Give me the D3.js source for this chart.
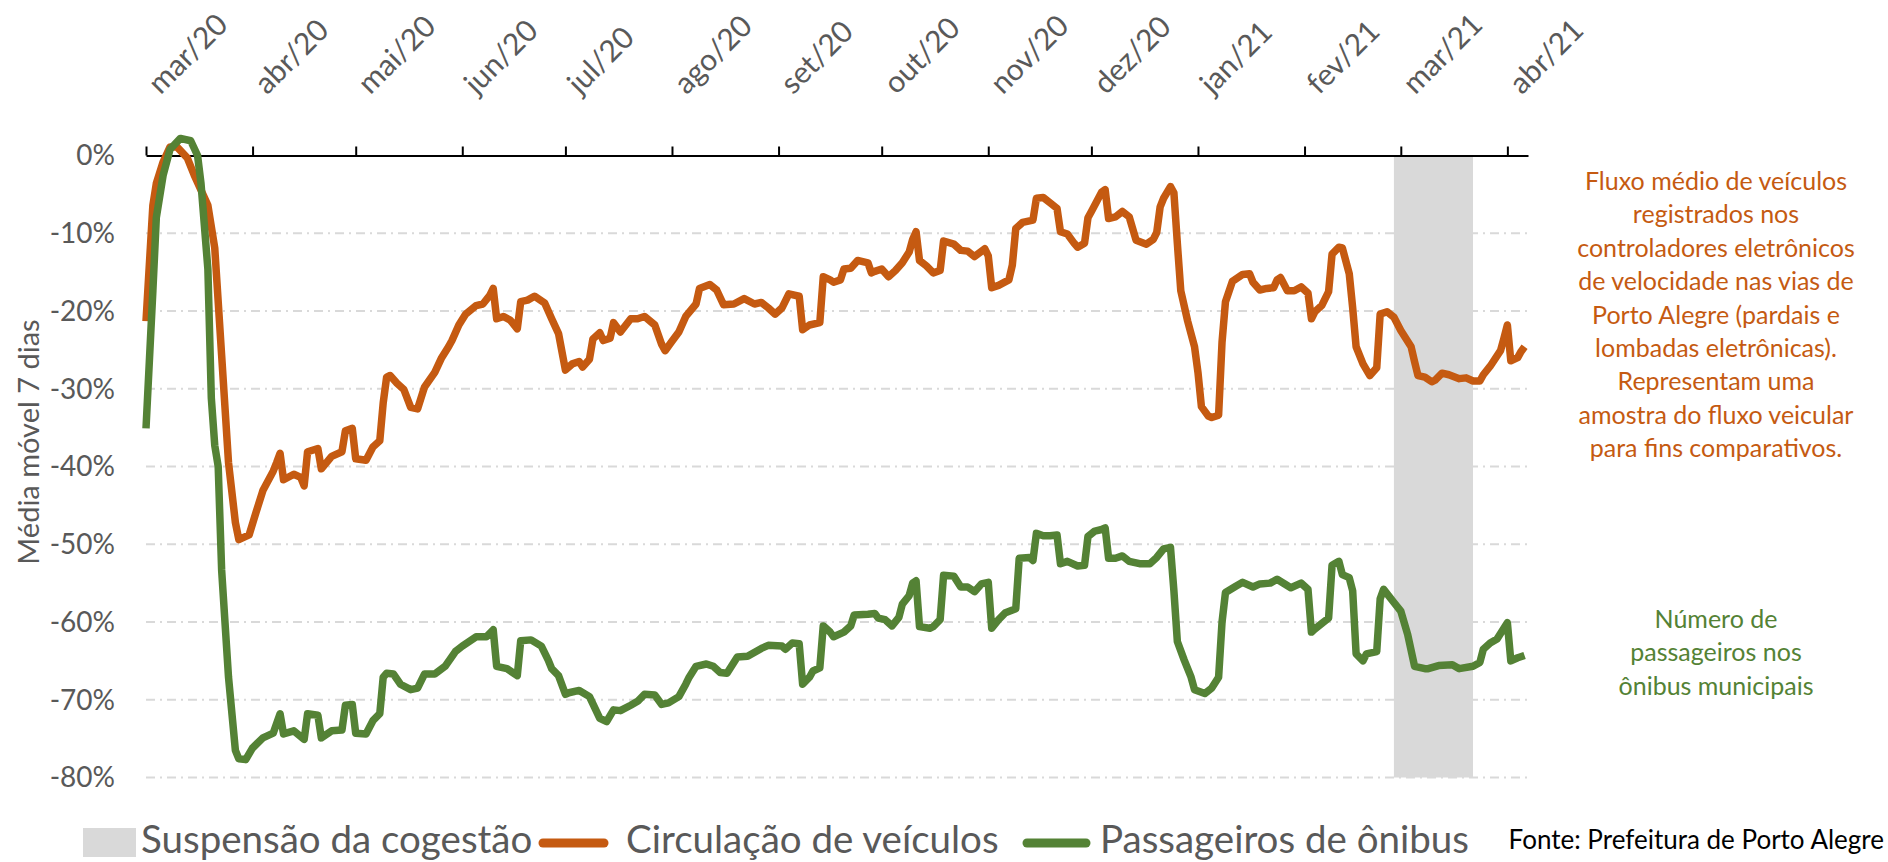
<!DOCTYPE html>
<html>
<head>
<meta charset="utf-8">
<script src="https://cdn.jsdelivr.net/npm/d3@7"></script>
<style>
  body { margin: 0; background: #fff; }
  svg { display: block; font-family: Lato, "Open Sans", sans-serif; }
</style>
</head>
<body>
<div id="chart"></div>
<script>
//////////
// Data //
//////////

// Month ticks on the top axis
const monthStarts = ["2020-03-01", "2020-04-01", "2020-05-01", "2020-06-01", "2020-07-01",
  "2020-08-01", "2020-09-01", "2020-10-01", "2020-11-01", "2020-12-01",
  "2021-01-01", "2021-02-01", "2021-03-01", "2021-04-01"];
const monthLabels = ["mar/20", "abr/20", "mai/20", "jun/20", "jul/20", "ago/20", "set/20",
  "out/20", "nov/20", "dez/20", "jan/21", "fev/21", "mar/21", "abr/21"];

// Y ticks, percent
const yTicks = [0, -10, -20, -30, -40, -50, -60, -70, -80];

// Period with the co-management suspended
const suspensao = ["2021-02-27", "2021-03-22"];

// 7-day moving average, % vs. reference
const veiculos = [
  ["2020-03-01", -21.3], ["2020-03-03", -6.4], ["2020-03-04", -3.6], ["2020-03-06", -0.8],
  ["2020-03-08", 1.1], ["2020-03-10", 1.1], ["2020-03-13", -0.3], ["2020-03-15", -2.5],
  ["2020-03-19", -6.4], ["2020-03-21", -11.9], ["2020-03-23", -25.7], ["2020-03-25", -39.5],
  ["2020-03-27", -47.2], ["2020-03-28", -49.4], ["2020-03-31", -48.8], ["2020-04-02", -45.9],
  ["2020-04-04", -43.1], ["2020-04-07", -40.6], ["2020-04-08", -39.5], ["2020-04-09", -38.3],
  ["2020-04-10", -41.7], ["2020-04-13", -41], ["2020-04-15", -41.4], ["2020-04-16", -42.5],
  ["2020-04-17", -38.1], ["2020-04-20", -37.7], ["2020-04-21", -40.3], ["2020-04-24", -38.7],
  ["2020-04-27", -38.1], ["2020-04-28", -35.4], ["2020-04-30", -35.1], ["2020-05-01", -39],
  ["2020-05-04", -39.2], ["2020-05-06", -37.5], ["2020-05-08", -36.7], ["2020-05-09", -31.8],
  ["2020-05-10", -28.5], ["2020-05-11", -28.3], ["2020-05-13", -29.3], ["2020-05-15", -30.1],
  ["2020-05-17", -32.4], ["2020-05-19", -32.6], ["2020-05-21", -29.8], ["2020-05-24", -27.9],
  ["2020-05-26", -26], ["2020-05-28", -24.6], ["2020-05-29", -23.8], ["2020-05-31", -21.8],
  ["2020-06-02", -20.4], ["2020-06-05", -19.3], ["2020-06-07", -19.1], ["2020-06-09", -18],
  ["2020-06-10", -17.1], ["2020-06-11", -21], ["2020-06-13", -20.7], ["2020-06-15", -21.2],
  ["2020-06-17", -22.3], ["2020-06-18", -18.8], ["2020-06-20", -18.6], ["2020-06-22", -18.1],
  ["2020-06-25", -19], ["2020-06-27", -21], ["2020-06-29", -22.9], ["2020-07-01", -27.6],
  ["2020-07-03", -26.8], ["2020-07-05", -26.5], ["2020-07-06", -27.2], ["2020-07-08", -26.2],
  ["2020-07-09", -23.6], ["2020-07-11", -22.8], ["2020-07-12", -23.8], ["2020-07-14", -23.5],
  ["2020-07-15", -21.5], ["2020-07-17", -22.7], ["2020-07-20", -21], ["2020-07-22", -21],
  ["2020-07-24", -20.7], ["2020-07-27", -21.8], ["2020-07-29", -24.3], ["2020-07-30", -25.1],
  ["2020-08-01", -23.9], ["2020-08-03", -22.7], ["2020-08-05", -20.7], ["2020-08-08", -19.1],
  ["2020-08-09", -17.1], ["2020-08-12", -16.6], ["2020-08-14", -17.3], ["2020-08-16", -19.2],
  ["2020-08-19", -19.1], ["2020-08-22", -18.4], ["2020-08-25", -19.1], ["2020-08-27", -18.9],
  ["2020-08-29", -19.6], ["2020-08-31", -20.4], ["2020-09-02", -19.6], ["2020-09-04", -17.8],
  ["2020-09-07", -18.1], ["2020-09-08", -22.4], ["2020-09-10", -21.8], ["2020-09-13", -21.5],
  ["2020-09-14", -15.6], ["2020-09-16", -16], ["2020-09-17", -16.3], ["2020-09-19", -16],
  ["2020-09-20", -14.6], ["2020-09-22", -14.5], ["2020-09-24", -13.5], ["2020-09-27", -13.8],
  ["2020-09-28", -15.1], ["2020-09-29", -14.9], ["2020-10-01", -14.6], ["2020-10-03", -15.6],
  ["2020-10-05", -14.8], ["2020-10-07", -13.8], ["2020-10-09", -12.4], ["2020-10-10", -10.8],
  ["2020-10-11", -9.8], ["2020-10-12", -13.5], ["2020-10-14", -14.2], ["2020-10-16", -15.1],
  ["2020-10-18", -14.8], ["2020-10-19", -11], ["2020-10-22", -11.4], ["2020-10-24", -12.2],
  ["2020-10-26", -12.3], ["2020-10-28", -13], ["2020-10-31", -12], ["2020-11-01", -12.9],
  ["2020-11-02", -17], ["2020-11-04", -16.7], ["2020-11-07", -16], ["2020-11-08", -14.1],
  ["2020-11-09", -9.4], ["2020-11-11", -8.6], ["2020-11-14", -8.3], ["2020-11-15", -5.5],
  ["2020-11-17", -5.4], ["2020-11-19", -6.1], ["2020-11-21", -6.8], ["2020-11-22", -9.8],
  ["2020-11-24", -10.1], ["2020-11-26", -11.3], ["2020-11-27", -11.8], ["2020-11-29", -11.3],
  ["2020-11-30", -8], ["2020-12-01", -7.2], ["2020-12-04", -4.7], ["2020-12-05", -4.4],
  ["2020-12-06", -8.1], ["2020-12-08", -7.9], ["2020-12-10", -7.2], ["2020-12-12", -7.9],
  ["2020-12-14", -10.9], ["2020-12-17", -11.4], ["2020-12-19", -10.8], ["2020-12-20", -9.9],
  ["2020-12-21", -6.6], ["2020-12-22", -5.5], ["2020-12-24", -4], ["2020-12-25", -4.8],
  ["2020-12-26", -11.3], ["2020-12-27", -17.4], ["2020-12-29", -21.3], ["2020-12-31", -24.6],
  ["2021-01-01", -27.9], ["2021-01-02", -32.3], ["2021-01-04", -33.5], ["2021-01-05", -33.7],
  ["2021-01-07", -33.4], ["2021-01-08", -24], ["2021-01-09", -18.8], ["2021-01-11", -16.2],
  ["2021-01-14", -15.3], ["2021-01-16", -15.2], ["2021-01-17", -16.3], ["2021-01-19", -17.3],
  ["2021-01-21", -17.1], ["2021-01-23", -17], ["2021-01-24", -16], ["2021-01-25", -15.7],
  ["2021-01-27", -17.4], ["2021-01-29", -17.4], ["2021-01-31", -16.9], ["2021-02-02", -17.7],
  ["2021-02-03", -21], ["2021-02-04", -20.1], ["2021-02-06", -19.3], ["2021-02-08", -17.5],
  ["2021-02-09", -12.7], ["2021-02-11", -11.8], ["2021-02-12", -11.9], ["2021-02-14", -15.2],
  ["2021-02-15", -19.6], ["2021-02-16", -24.6], ["2021-02-18", -26.8], ["2021-02-20", -28.3],
  ["2021-02-22", -27.3], ["2021-02-23", -20.4], ["2021-02-25", -20.1], ["2021-02-27", -20.8],
  ["2021-03-01", -22.5], ["2021-03-04", -24.6], ["2021-03-05", -26.5], ["2021-03-06", -28.3],
  ["2021-03-08", -28.5], ["2021-03-10", -29.1], ["2021-03-11", -28.9], ["2021-03-13", -28],
  ["2021-03-15", -28.2], ["2021-03-18", -28.7], ["2021-03-20", -28.6], ["2021-03-22", -29],
  ["2021-03-24", -29], ["2021-03-25", -28.2], ["2021-03-27", -27.1], ["2021-03-30", -25.1],
  ["2021-03-31", -23.5], ["2021-04-01", -21.8], ["2021-04-02", -26.4], ["2021-04-04", -26],
  ["2021-04-05", -25.2], ["2021-04-06", -24.6]
];

const onibus = [
  ["2020-03-01", -35.1], ["2020-03-03", -17.4], ["2020-03-04", -8], ["2020-03-06", -2.5],
  ["2020-03-08", 0.8], ["2020-03-11", 2.2], ["2020-03-14", 1.9], ["2020-03-16", 0],
  ["2020-03-17", -3.6], ["2020-03-19", -14.6], ["2020-03-20", -31.2], ["2020-03-21", -37.3],
  ["2020-03-22", -40], ["2020-03-23", -53.3], ["2020-03-25", -67.1], ["2020-03-27", -76.5],
  ["2020-03-28", -77.6], ["2020-03-30", -77.7], ["2020-04-01", -76.2], ["2020-04-04", -74.9],
  ["2020-04-07", -74.3], ["2020-04-09", -71.8], ["2020-04-10", -74.4], ["2020-04-13", -74],
  ["2020-04-16", -75.1], ["2020-04-17", -71.8], ["2020-04-20", -72], ["2020-04-21", -74.9],
  ["2020-04-24", -74], ["2020-04-27", -73.9], ["2020-04-28", -70.7], ["2020-04-30", -70.6],
  ["2020-05-01", -74.3], ["2020-05-04", -74.4], ["2020-05-06", -72.7], ["2020-05-08", -71.8],
  ["2020-05-09", -67.1], ["2020-05-10", -66.6], ["2020-05-12", -66.7], ["2020-05-14", -68],
  ["2020-05-17", -68.7], ["2020-05-19", -68.5], ["2020-05-21", -66.7], ["2020-05-24", -66.7],
  ["2020-05-27", -65.7], ["2020-05-30", -63.8], ["2020-06-01", -63.1], ["2020-06-05", -61.9],
  ["2020-06-08", -61.9], ["2020-06-10", -61], ["2020-06-11", -65.7], ["2020-06-14", -66],
  ["2020-06-17", -66.9], ["2020-06-18", -62.4], ["2020-06-21", -62.3], ["2020-06-24", -63.1],
  ["2020-06-26", -64.9], ["2020-06-27", -66], ["2020-06-29", -66.9], ["2020-07-01", -69.3],
  ["2020-07-02", -69.1], ["2020-07-05", -68.8], ["2020-07-08", -69.6], ["2020-07-11", -72.4],
  ["2020-07-13", -72.8], ["2020-07-15", -71.3], ["2020-07-17", -71.4], ["2020-07-20", -70.7],
  ["2020-07-22", -70.2], ["2020-07-24", -69.3], ["2020-07-27", -69.4], ["2020-07-29", -70.6],
  ["2020-07-31", -70.4], ["2020-08-03", -69.6], ["2020-08-05", -68], ["2020-08-06", -67.1],
  ["2020-08-08", -65.7], ["2020-08-11", -65.4], ["2020-08-13", -65.7], ["2020-08-15", -66.5],
  ["2020-08-17", -66.6], ["2020-08-20", -64.5], ["2020-08-23", -64.4], ["2020-08-27", -63.4],
  ["2020-08-29", -63], ["2020-09-02", -63.1], ["2020-09-03", -63.5], ["2020-09-05", -62.7],
  ["2020-09-07", -62.8], ["2020-09-08", -68], ["2020-09-10", -67.1], ["2020-09-11", -66.3],
  ["2020-09-13", -65.9], ["2020-09-14", -60.5], ["2020-09-16", -61.3], ["2020-09-17", -61.9],
  ["2020-09-20", -61.3], ["2020-09-22", -60.5], ["2020-09-23", -59.1], ["2020-09-27", -59],
  ["2020-09-29", -58.9], ["2020-09-30", -59.5], ["2020-10-02", -59.7], ["2020-10-04", -60.5],
  ["2020-10-06", -59.4], ["2020-10-07", -57.7], ["2020-10-09", -56.6], ["2020-10-10", -55],
  ["2020-10-11", -54.7], ["2020-10-12", -60.6], ["2020-10-15", -60.8], ["2020-10-16", -60.6],
  ["2020-10-18", -59.7], ["2020-10-19", -54], ["2020-10-22", -54.1], ["2020-10-24", -55.5],
  ["2020-10-26", -55.5], ["2020-10-28", -56.1], ["2020-10-30", -55.1], ["2020-11-01", -54.9],
  ["2020-11-02", -60.8], ["2020-11-04", -59.7], ["2020-11-06", -58.8], ["2020-11-09", -58.3],
  ["2020-11-10", -51.8], ["2020-11-13", -51.7], ["2020-11-14", -52.1], ["2020-11-15", -48.6],
  ["2020-11-17", -48.9], ["2020-11-19", -48.9], ["2020-11-21", -48.8], ["2020-11-22", -52.5],
  ["2020-11-24", -52.2], ["2020-11-27", -52.8], ["2020-11-29", -52.7], ["2020-11-30", -49],
  ["2020-12-02", -48.3], ["2020-12-04", -48.1], ["2020-12-05", -47.9], ["2020-12-06", -51.8],
  ["2020-12-08", -51.8], ["2020-12-10", -51.5], ["2020-12-12", -52.2], ["2020-12-15", -52.5],
  ["2020-12-18", -52.5], ["2020-12-20", -51.7], ["2020-12-22", -50.6], ["2020-12-24", -50.4],
  ["2020-12-25", -56], ["2020-12-26", -62.5], ["2020-12-28", -64.9], ["2020-12-30", -67.1],
  ["2020-12-31", -68.7], ["2021-01-03", -69.2], ["2021-01-05", -68.5], ["2021-01-07", -67.1],
  ["2021-01-08", -60], ["2021-01-09", -56.2], ["2021-01-12", -55.4], ["2021-01-14", -54.9],
  ["2021-01-17", -55.5], ["2021-01-19", -55.1], ["2021-01-22", -55], ["2021-01-24", -54.5],
  ["2021-01-28", -55.6], ["2021-01-31", -55], ["2021-02-02", -55.8], ["2021-02-03", -61.3],
  ["2021-02-04", -60.9], ["2021-02-06", -60.2], ["2021-02-08", -59.5], ["2021-02-09", -52.7],
  ["2021-02-11", -52.2], ["2021-02-12", -53.9], ["2021-02-14", -54.3], ["2021-02-15", -56],
  ["2021-02-16", -64.1], ["2021-02-18", -65], ["2021-02-19", -64.1], ["2021-02-22", -63.8],
  ["2021-02-23", -57], ["2021-02-24", -55.8], ["2021-02-27", -57.5], ["2021-03-01", -58.6],
  ["2021-03-03", -61.6], ["2021-03-05", -65.7], ["2021-03-08", -66], ["2021-03-09", -66],
  ["2021-03-12", -65.6], ["2021-03-16", -65.5], ["2021-03-18", -66], ["2021-03-22", -65.7],
  ["2021-03-24", -65.2], ["2021-03-25", -63.5], ["2021-03-27", -62.7], ["2021-03-29", -62.2],
  ["2021-04-01", -60.1], ["2021-04-02", -65], ["2021-04-04", -64.6], ["2021-04-06", -64.3]
];

// Side notes
const notaVeiculos = ["Fluxo médio de veículos", "registrados nos", "controladores eletrônicos",
  "de velocidade nas vias de", "Porto Alegre (pardais e", "lombadas eletrônicas).",
  "Representam uma", "amostra do fluxo veicular", "para fins comparativos."];
const notaOnibus = ["Número de", "passageiros nos", "ônibus municipais"];

const legendLabels = ["Suspensão da cogestão", "Circulação de veículos", "Passageiros de ônibus"];
const fonte = "Fonte: Prefeitura de Porto Alegre";

///////////
// Setup //
///////////

const W = 1888, H = 862;
const orange = "#C55A11", green = "#548235", band = "#D9D9D9", textGray = "#595959";

const parse = d3.timeParse("%Y-%m-%d");

const x = d3.scaleTime()
    .domain([parse("2020-03-01"), parse("2021-04-07")])
    .range([146, 1528]);
const y = d3.scaleLinear().domain([-80, 0]).range([777.5, 155.5]);

const svg = d3.select("#chart").append("svg")
    .attr("width", W)
    .attr("height", H);

// gridlines (dash-dot)
svg.append("g").selectAll("line")
    .data(yTicks.filter(t => t !== 0))
    .enter().append("line")
    .attr("x1", x.range()[0]).attr("x2", x.range()[1])
    .attr("y1", d => y(d)).attr("y2", d => y(d))
    .attr("stroke", "#D9D9D9")
    .attr("stroke-width", 2)
    .attr("stroke-dasharray", "9,5,2,5");

// suspension period
svg.append("rect")
    .attr("x", x(parse(suspensao[0])))
    .attr("width", x(parse(suspensao[1])) - x(parse(suspensao[0])))
    .attr("y", y(0) + 1)
    .attr("height", y(-80) - y(0) - 1)
    .attr("fill", band);

// y tick labels
svg.append("g").selectAll("text")
    .data(yTicks)
    .enter().append("text")
    .attr("x", 115)
    .attr("y", d => y(d))
    .attr("dy", "0.35em")
    .attr("text-anchor", "end")
    .attr("fill", textGray)
    .style("font-size", "28px")
    .text(d => d + "%");

// y title
svg.append("text")
    .attr("transform", "translate(39," + 442 + ") rotate(-90)")
    .attr("text-anchor", "middle")
    .attr("fill", textGray)
    .style("font-size", "29px")
    .text("Média móvel 7 dias");

// top axis
const xAxis = d3.axisTop(x)
    .tickValues(monthStarts.map(parse))
    .tickSize(9)
    .tickSizeOuter(0)
    .tickFormat((d, i) => monthLabels[i]);

const axisG = svg.append("g")
    .attr("transform", "translate(0," + y(0) + ")")
    .call(xAxis);
axisG.select(".domain").attr("stroke", "#000").attr("stroke-width", 2);
axisG.selectAll(".tick line").attr("stroke", "#000").attr("stroke-width", 2);
axisG.selectAll(".tick text")
    .attr("x", 0).attr("y", 0).attr("dy", null)
    .attr("text-anchor", "start")
    .attr("transform", "translate(14,-60) rotate(-45)")
    .attr("fill", textGray)
    .style("font-family", "Lato, 'Open Sans', sans-serif")
    .style("font-size", "30px");

// series
const line = d3.line()
    .x(d => x(parse(d[0])))
    .y(d => y(d[1]));

svg.append("path").datum(veiculos)
    .attr("d", line)
    .attr("fill", "none")
    .attr("stroke", orange)
    .attr("stroke-width", 7.5)
    .attr("stroke-linejoin", "round");

svg.append("path").datum(onibus)
    .attr("d", line)
    .attr("fill", "none")
    .attr("stroke", green)
    .attr("stroke-width", 7.5)
    .attr("stroke-linejoin", "round");

// side notes
const notes = (lines, color, y0) => {
  svg.append("text")
      .attr("text-anchor", "middle")
      .attr("fill", color)
      .style("font-size", "25px")
      .selectAll("tspan")
      .data(lines)
      .enter().append("tspan")
      .attr("x", 1716)
      .attr("y", (d, i) => y0 + i * 33.4)
      .text(d => d);
};
notes(notaVeiculos, orange, 190);
notes(notaOnibus, green, 628);

////////////
// Legend //
////////////

const legend = svg.append("g");
legend.append("rect")
    .attr("x", 83).attr("y", 828).attr("width", 53).attr("height", 29)
    .attr("fill", band);
legend.append("line")
    .attr("x1", 543).attr("x2", 604).attr("y1", 843).attr("y2", 843)
    .attr("stroke", orange).attr("stroke-width", 9).attr("stroke-linecap", "round");
legend.append("line")
    .attr("x1", 1027).attr("x2", 1086).attr("y1", 843).attr("y2", 843)
    .attr("stroke", green).attr("stroke-width", 9).attr("stroke-linecap", "round");

const legendX = [141, 626, 1100];
legend.selectAll("text")
    .data(legendLabels)
    .enter().append("text")
    .attr("x", (d, i) => legendX[i])
    .attr("y", 853)
    .attr("fill", textGray)
    .style("font-size", "38.5px")
    .text(d => d);

svg.append("text")
    .attr("x", 1884)
    .attr("y", 849)
    .attr("text-anchor", "end")
    .attr("fill", "#000")
    .style("font-size", "26px")
    .text(fonte);
</script>
</body>
</html>
